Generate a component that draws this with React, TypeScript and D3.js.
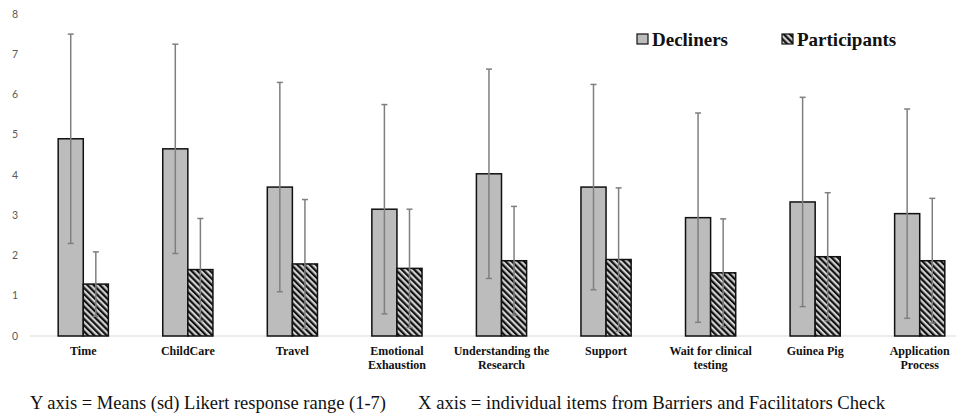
import { useEffect, useRef } from "react";
import * as d3 from "d3";

const categories = [
  ["Time"],
  ["ChildCare"],
  ["Travel"],
  ["Emotional", "Exhaustion"],
  ["Understanding the", "Research"],
  ["Support"],
  ["Wait for clinical", "testing"],
  ["Guinea Pig"],
  ["Application", "Process"],
];
const series = ["Decliners", "Participants"];
const declinerMeans = [4.9, 4.65, 3.7, 3.15, 4.03, 3.7, 2.94, 3.33, 3.04];
const declinerSd = [2.6, 2.6, 2.6, 2.6, 2.6, 2.55, 2.6, 2.6, 2.6];
const participantMeans = [1.29, 1.65, 1.79, 1.68, 1.87, 1.9, 1.57, 1.97, 1.87];
const participantSd = [0.8, 1.27, 1.6, 1.47, 1.35, 1.78, 1.34, 1.59, 1.55];
const yTicks = [0, 1, 2, 3, 4, 5, 6, 7, 8];

const W = 956;
const H = 418;

const App = () => {
  const ref = useRef<SVGSVGElement>(null);

  useEffect(() => {
    const svg = d3.select(ref.current);
    svg.selectAll("*").remove();

    const keys = categories.map((c) => c.join(" "));
    const x = d3
      .scaleBand()
      .domain(keys)
      .range([31, 972])
      .paddingInner(0.52)
      .paddingOuter(0.26);
    const xs = d3.scaleBand().domain(series).range([0, x.bandwidth()]);
    const y = d3.scaleLinear().domain([0, 8]).range([336, 14]);

    // hatch pattern for participants
    const defs = svg.append("defs");
    const pat = defs
      .append("pattern")
      .attr("id", "hatch")
      .attr("patternUnits", "userSpaceOnUse")
      .attr("width", 4.4)
      .attr("height", 4.4)
      .attr("patternTransform", "rotate(-45)");
    pat.append("rect").attr("width", 4.4).attr("height", 4.4).attr("fill", "#d2d2d2");
    pat.append("rect").attr("width", 2.2).attr("height", 4.4).attr("fill", "#111");

    // y tick labels
    svg
      .append("g")
      .selectAll("text")
      .data(yTicks)
      .join("text")
      .attr("x", 18)
      .attr("y", (d) => y(d))
      .attr("dy", "0.35em")
      .attr("text-anchor", "end")
      .attr("font-family", "Lato, 'Open Sans', sans-serif")
      .attr("font-size", 10.5)
      .attr("fill", "#595959")
      .text((d) => d);

    // baseline
    svg
      .append("line")
      .attr("x1", 30)
      .attr("x2", W)
      .attr("y1", y(0))
      .attr("y2", y(0))
      .attr("stroke", "#d9d9d9")
      .attr("stroke-width", 1);

    const rows = keys.flatMap((k, i) => [
      { k, s: "Decliners", v: declinerMeans[i], sd: declinerSd[i] },
      { k, s: "Participants", v: participantMeans[i], sd: participantSd[i] },
    ]);

    svg
      .append("g")
      .selectAll("rect")
      .data(rows)
      .join("rect")
      .attr("x", (d) => x(d.k)! + xs(d.s)!)
      .attr("y", (d) => y(d.v))
      .attr("width", xs.bandwidth())
      .attr("height", (d) => y(0) - y(d.v))
      .attr("fill", (d) => (d.s === "Decliners" ? "#bcbcbc" : "url(#hatch)"))
      .attr("stroke", "#111")
      .attr("stroke-width", 1.5);

    // error bars
    const eb = svg
      .append("g")
      .attr("stroke", "#7f7f7f")
      .attr("stroke-width", 1.5)
      .selectAll("g")
      .data(rows)
      .join("g")
      .attr("transform", (d) => `translate(${x(d.k)! + xs(d.s)! + xs.bandwidth() / 2},0)`);
    eb.append("line")
      .attr("y1", (d) => y(d.v + d.sd))
      .attr("y2", (d) => y(Math.max(0, d.v - d.sd)));
    eb.append("line")
      .attr("x1", -3)
      .attr("x2", 3)
      .attr("y1", (d) => y(d.v + d.sd))
      .attr("y2", (d) => y(d.v + d.sd));
    eb.append("line")
      .attr("x1", -3)
      .attr("x2", 3)
      .attr("y1", (d) => y(d.v - d.sd))
      .attr("y2", (d) => y(d.v - d.sd));

    // category labels
    const lab = svg
      .append("g")
      .attr("font-family", "'Liberation Serif', 'Times New Roman', serif")
      .attr("font-weight", "bold")
      .attr("font-size", 12)
      .attr("fill", "#111")
      .attr("text-anchor", "middle")
      .selectAll("text")
      .data(categories)
      .join("text")
      .attr("x", (d) => x(d.join(" "))! + x.bandwidth() / 2)
      .attr("y", 355);
    lab
      .selectAll("tspan")
      .data((d) => d)
      .join("tspan")
      .attr("x", function () {
        return (this.parentNode as SVGTextElement).getAttribute("x");
      })
      .attr("dy", (_, i) => (i === 0 ? 0 : 14))
      .text((d) => d);

    // legend
    const leg = svg
      .append("g")
      .selectAll("g")
      .data(series)
      .join("g")
      .attr("transform", (_, i) => `translate(${[637, 782][i]},34)`);
    leg
      .append("rect")
      .attr("width", 11)
      .attr("height", 10)
      .attr("fill", (d) => (d === "Decliners" ? "#bcbcbc" : "url(#hatch)"))
      .attr("stroke", "#111")
      .attr("stroke-width", 1.2);
    leg
      .append("text")
      .attr("x", 15)
      .attr("y", 12)
      .attr("font-family", "'Liberation Serif', 'Times New Roman', serif")
      .attr("font-weight", "bold")
      .attr("font-size", 19)
      .attr("fill", "#111")
      .text((d) => d);

    // caption
    const cap = svg
      .append("g")
      .attr("font-family", "'Liberation Serif', 'Times New Roman', serif")
      .attr("font-size", 19)
      .attr("fill", "#111");
    cap
      .append("text")
      .attr("x", 30)
      .attr("y", 409)
      .attr("textLength", 356)
      .attr("lengthAdjust", "spacingAndGlyphs")
      .text("Y axis = Means (sd) Likert response range (1-7)");
    cap
      .append("text")
      .attr("x", 418)
      .attr("y", 409)
      .attr("textLength", 467)
      .attr("lengthAdjust", "spacingAndGlyphs")
      .text("X axis = individual items from Barriers and Facilitators Check");
  }, []);

  return (
    <div style={{ position: "absolute", left: 0, top: 0 }}>
      <svg ref={ref} width={W} height={H} style={{ display: "block", background: "#fff" }} />
    </div>
  );
};

export default App;
